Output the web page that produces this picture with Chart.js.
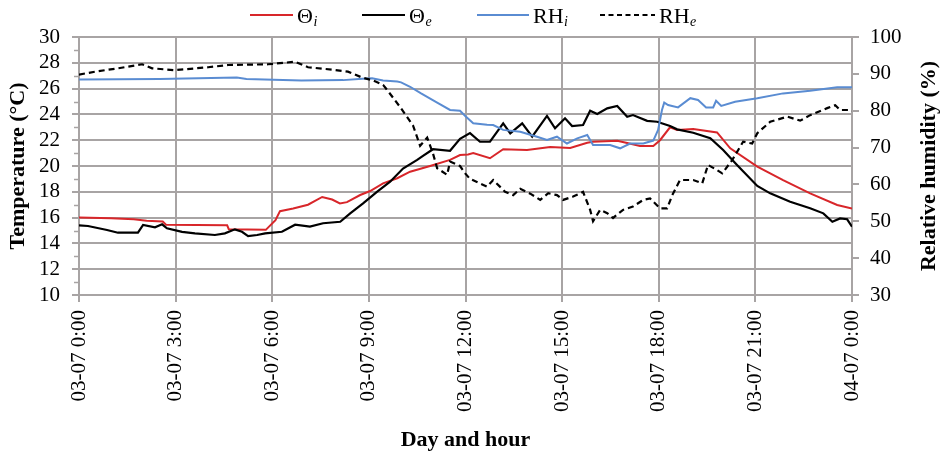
<!DOCTYPE html>
<html>
<head>
<meta charset="utf-8">
<script src="https://cdn.jsdelivr.net/npm/chart.js@4"></script>
<style>
  html, body { margin: 0; padding: 0; background: #fff; }
  #wrap { width: 943px; height: 460px; }
</style>
</head>
<body>
<div id="wrap"><canvas id="c" width="943" height="460"></canvas></div>
<script>
// ---- Data (hours since 03-07 0:00) ----
const xTickLabels = ['03-07 0:00','03-07 3:00','03-07 6:00','03-07 9:00','03-07 12:00','03-07 15:00','03-07 18:00','03-07 21:00','04-07 0:00'];

const tiHours  = [0,1.0,1.7,2.1,2.6,2.7,4.6,4.65,5.8,6.1,6.24,6.65,7.11,7.55,7.86,8.1,8.32,8.73,9.04,9.44,9.88,10.28,10.9,11.52,11.83,12.08,12.24,12.76,13.17,13.91,14.63,15.25,15.78,15.96,16.71,17.02,17.42,17.83,18.04,18.35,18.57,19.07,19.81,20.22,21.06,21.86,22.7,23.54,24];
const tiValues = [16.0,15.95,15.87,15.75,15.7,15.45,15.4,15.1,15.05,15.8,16.5,16.7,17.0,17.6,17.4,17.1,17.2,17.75,18.06,18.66,19.05,19.56,20.0,20.47,20.85,20.9,21.0,20.6,21.3,21.24,21.47,21.4,21.8,21.88,21.96,21.78,21.55,21.55,22.0,23.0,22.8,22.87,22.6,21.37,19.95,18.9,17.88,16.98,16.7];

const teHours  = [0,0.28,0.87,1.21,1.83,1.99,2.36,2.58,2.73,3.2,3.6,4.22,4.53,4.84,5.06,5.25,5.53,5.78,6.3,6.71,7.17,7.58,8.11,8.42,8.82,9.25,9.66,10.06,10.5,10.68,10.99,11.52,11.83,12.14,12.45,12.76,13.17,13.39,13.76,14.07,14.53,14.78,15.09,15.31,15.65,15.87,16.09,16.4,16.71,17.02,17.2,17.64,17.95,18.35,18.57,19.07,19.6,20.0,20.43,21.06,21.46,22.08,22.7,23.11,23.39,23.63,23.85,24];
const teValues = [15.4,15.35,15.04,14.83,14.83,15.43,15.25,15.48,15.17,14.9,14.78,14.65,14.78,15.09,14.9,14.57,14.65,14.78,14.9,15.45,15.3,15.56,15.68,16.33,17.1,18.0,18.78,19.8,20.47,20.78,21.3,21.18,22.1,22.55,21.88,21.88,23.3,22.53,23.3,22.27,23.88,22.92,23.7,23.1,23.18,24.29,24.03,24.47,24.65,23.82,23.95,23.5,23.43,23.1,22.84,22.58,22.15,21.24,20.08,18.45,17.88,17.23,16.72,16.33,15.68,15.94,15.87,15.3];

const rhiHours  = [0,2.5,4.9,5.2,6.9,8.2,8.8,9.1,9.44,9.88,10.0,10.28,10.62,11.12,11.52,11.83,12.0,12.24,12.67,12.86,13.17,13.7,14.22,14.53,14.84,15.15,15.47,15.78,15.96,16.49,16.8,17.11,17.52,17.83,17.98,18.1,18.17,18.29,18.6,18.98,19.22,19.47,19.69,19.78,19.94,20.37,21.06,21.86,22.7,23.54,24];
const rhiValues = [88.5,88.6,89.0,88.6,88.2,88.3,88.7,88.8,88.2,87.9,87.7,86.5,84.7,82.2,80.2,80.0,78.5,76.6,76.2,76.1,74.8,74.3,72.95,72.1,72.95,71.1,72.5,73.4,70.7,70.7,69.8,71.1,71.1,71.9,74.8,80.2,82.2,81.55,80.9,83.4,82.9,80.9,80.9,82.7,81.3,82.45,83.4,84.7,85.4,86.35,86.4];

const rheHours  = [0,0.5,1.21,1.96,2.27,2.98,4.01,4.63,5.87,6.71,7.11,7.95,8.35,8.79,9.13,9.44,9.57,9.97,10.37,10.59,10.81,10.99,11.12,11.43,11.52,11.83,11.99,12.14,12.67,12.86,13.23,13.48,13.7,14.01,14.32,14.57,14.84,15.03,15.34,15.65,15.87,15.96,16.18,16.4,16.58,16.89,17.2,17.52,17.73,18.04,18.26,18.42,18.66,19.07,19.35,19.53,19.81,19.97,20.28,20.62,20.9,21.06,21.46,21.99,22.39,22.7,23.23,23.48,23.63,23.94,24];
const rheValues = [89.8,90.6,91.5,92.6,91.5,91.0,91.8,92.4,92.6,93.3,91.8,91.05,90.6,89.0,88.2,87.0,85.6,81.0,76.0,70.5,72.7,68.4,64.4,62.6,66.2,65.0,63.0,61.5,59.4,61.2,58.0,57.1,58.8,57.5,55.8,57.6,57.1,55.8,56.7,58.0,53.1,50.0,53.1,52.2,50.9,53.1,54.0,55.8,56.2,53.5,53.5,57.1,61.2,61.2,60.3,65.3,63.9,63.0,66.6,71.6,71.1,73.9,77.0,78.4,77.3,78.8,80.7,81.5,80.2,80.2,80.0];

const legendMain = ['\u0398', '\u0398', 'RH', 'RH'];
const legendSub  = ['i', 'e', 'i', 'e'];

// ---- Styling ----
const SERIF = '"Liberation Serif", "Times New Roman", serif';
const GRID = '#a8a4a4';
const RED = '#d8262a';
const BLUE = '#5a8cd2';

function pts(h, v) { return h.map((x, i) => ({ x: x, y: v[i] })); }

const datasets = [
  { label: 'Θi', data: pts(tiHours, tiValues), borderColor: RED, borderWidth: 2, yAxisID: 'y', order: 4 },
  { label: 'Θe', data: pts(teHours, teValues), borderColor: '#000', borderWidth: 2.2, yAxisID: 'y', order: 3 },
  { label: 'RHi', data: pts(rhiHours, rhiValues), borderColor: BLUE, borderWidth: 2, yAxisID: 'y2', order: 2 },
  { label: 'RHe', data: pts(rheHours, rheValues), borderColor: '#000', borderWidth: 2.2, borderDash: [6, 4], yAxisID: 'y2', order: 1 }
];
datasets.forEach(d => { d.pointRadius = 0; d.tension = 0; d.fill = false; });

const customLegend = {
  id: 'customLegend',
  afterDraw(chart) {
    const ctx = chart.ctx;
    const starts = [250, 362, 477, 600];
    const lineLens = [43, 43, 52, 55];
    const y = 15;
    const mainFont = '22px ' + SERIF;
    const subFont = 'italic 14px ' + SERIF;
    ctx.save();
    datasets.forEach((d, i) => {
      const x = starts[i];
      ctx.beginPath();
      ctx.strokeStyle = d.borderColor;
      ctx.lineWidth = 2;
      ctx.setLineDash(d.borderDash ? [5, 3.5] : []);
      ctx.moveTo(x, y); ctx.lineTo(x + lineLens[i], y);
      ctx.stroke();
      ctx.setLineDash([]);
      let tx = x + lineLens[i] + 4;
      ctx.fillStyle = '#000';
      ctx.textBaseline = 'alphabetic';
      ctx.textAlign = 'left';
      ctx.font = mainFont;
      ctx.fillText(legendMain[i], tx, y + 8);
      tx += ctx.measureText(legendMain[i]).width + 0.5;
      ctx.font = subFont;
      ctx.fillText(legendSub[i], tx, y + 11);
    });
    ctx.restore();
  }
};

// minor tick marks on the temperature axis (between labelled ticks)
const minorTicks = {
  id: 'minorTicks',
  afterDraw(chart) {
    const s = chart.scales.y, ctx = chart.ctx;
    ctx.save();
    ctx.strokeStyle = GRID;
    ctx.lineWidth = 1.5;
    for (let v = s.min + 1; v < s.max; v += 2) {
      const py = Math.round(s.getPixelForValue(v)) + 0.5;
      ctx.beginPath();
      ctx.moveTo(s.right - 5, py);
      ctx.lineTo(s.right, py);
      ctx.stroke();
    }
    ctx.restore();
  }
};

const rightTitle = {
  id: 'rightTitle',
  afterDraw(chart) {
    const ctx = chart.ctx, a = chart.chartArea;
    ctx.save();
    ctx.translate(929, (a.top + a.bottom) / 2);
    ctx.rotate(-Math.PI / 2);
    ctx.font = 'bold 22px ' + SERIF;
    ctx.fillStyle = '#000';
    ctx.textAlign = 'center';
    ctx.textBaseline = 'middle';
    ctx.fillText('Relative humidity (%)', 0, 0);
    ctx.restore();
  }
};

new Chart(document.getElementById('c'), {
  type: 'line',
  data: { datasets: datasets },
  options: {
    responsive: false,
    animation: false,
    layout: { padding: { top: 37, left: 0, right: 0, bottom: 0 } },
    plugins: { legend: { display: false }, tooltip: { enabled: false } },
    scales: {
      x: {
        type: 'linear', min: 0, max: 24,
        afterFit: s => { s.height = 165; },
        ticks: {
          stepSize: 3, autoSkip: false, minRotation: 90, maxRotation: 90,
          padding: 8, color: '#000',
          font: { family: SERIF, size: 21 },
          callback: v => xTickLabels[Math.round(v / 3)]
        },
        grid: { display: true, drawOnChartArea: true, color: GRID, tickColor: GRID, tickLength: 7, lineWidth: 2 },
        border: { color: GRID, width: 2 },
        title: { display: true, text: 'Day and hour', color: '#000',
                 font: { family: SERIF, size: 22, weight: 'bold' }, padding: { top: 0, bottom: 6 } }
      },
      y: {
        position: 'left', min: 10, max: 30,
        afterFit: s => { s.width = 79; },
        ticks: {
          stepSize: 2, autoSkip: false, padding: 12, color: '#000',
          font: { family: SERIF, size: 21 }
        },
        grid: { display: true, drawOnChartArea: true, color: GRID, tickColor: GRID, tickLength: 7, lineWidth: 2 },
        border: { color: GRID, width: 2 },
        title: { display: true, text: 'Temperature (°C)', color: '#000',
                 font: { family: SERIF, size: 22, weight: 'bold' }, padding: { top: 5, bottom: 0 } }
      },
      y2: {
        position: 'right', min: 30, max: 100,
        afterFit: s => { s.width = 91; },
        ticks: {
          stepSize: 10, autoSkip: false, padding: 11, color: '#000',
          font: { family: SERIF, size: 21 }
        },
        grid: { drawOnChartArea: false, tickColor: GRID, tickLength: 7, lineWidth: 2 },
        border: { color: GRID, width: 2 }
      }
    }
  },
  plugins: [customLegend, minorTicks, rightTitle]
});
</script>
</body>
</html>
